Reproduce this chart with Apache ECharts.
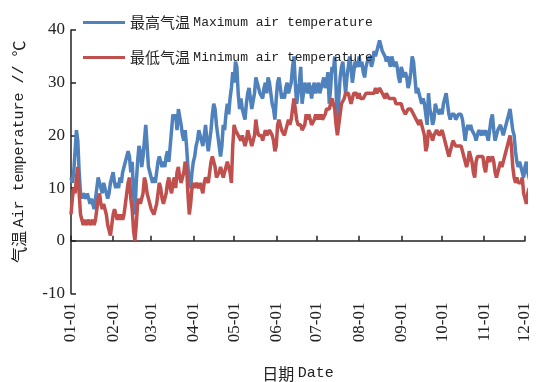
<!DOCTYPE html>
<html>
<head>
<meta charset="utf-8">
<script src="https://cdn.jsdelivr.net/npm/echarts@6/dist/echarts.min.js"></script>
<style>html,body{margin:0;padding:0;background:#fff}#c{width:560px;height:382px}</style>
</head>
<body>
<div id="c"></div>
<script>
// Day index 0 = 01-01
const monthStarts = [0, 31, 59, 90, 120, 151, 181, 212, 243, 273, 304, 334];
const tickLabels = ["01-01","02-01","03-01","04-01","05-01","06-01","07-01","08-01","09-01","10-01","11-01","12-01"];
const seriesNames = ["最高气温 Maximum air temperature", "最低气温 Minimum air temperature"];

const maxTemp = [
  12, 11, 13, 17, 21, 19, 13, 9, 8, 9,
  9, 8, 9, 8, 7, 8, 7, 6, 8, 10,
  12, 11, 10, 9, 11, 10, 9, 8, 9, 11,
  12, 13, 11, 10, 11, 10, 12, 11, 13, 14,
  14, 16, 17, 16, 13, 15, 9, 5, 11, 15,
  18, 17, 14, 16, 19, 22, 18, 14, 13, 12,
  11, 12, 11, 13, 15, 16, 15, 14, 15, 14,
  16, 17, 15, 18, 21, 24, 23, 24, 21, 25,
  25, 22, 20, 19, 21, 18, 14, 11, 10, 13,
  15, 16, 18, 19, 21, 21, 19, 18, 20, 22,
  19, 17, 17, 21, 24, 26, 25, 22, 20, 18,
  16, 18, 22, 21, 24, 26, 24, 27, 29, 32,
  30, 34, 33, 28, 25, 27, 25, 24, 23, 26,
  28, 29, 27, 25, 25, 28, 31, 30, 29, 28,
  28, 27, 29, 30, 28, 31, 30, 28, 26, 25,
  23, 27, 30, 31, 29, 27, 28, 27, 29, 30,
  28, 28, 30, 33, 35, 30, 26, 28, 30, 33,
  26, 28, 30, 29, 28, 30, 29, 27, 29, 30,
  28, 29, 30, 28, 29, 30, 31, 29, 30, 32,
  26, 29, 33, 32, 35, 29, 21, 27, 31, 33,
  34, 31, 28, 31, 33, 35, 33, 30, 32, 34,
  34, 33, 35, 33, 34, 32, 31, 33, 34, 34,
  35, 33, 34, 36, 35, 36, 37, 38, 37, 36,
  36, 35, 34, 35, 34, 33, 35, 34, 33, 34,
  33, 31, 30, 33, 32, 31, 32, 31, 29, 30,
  32, 35, 34, 31, 28, 29, 28, 27, 26, 27,
  26, 24, 22, 28, 25, 24, 22, 23, 26, 25,
  25, 24, 25, 24, 26, 27, 28, 26, 24, 23,
  24, 24, 24, 23, 23, 24, 24, 24, 23, 21,
  19, 21, 22, 21, 22, 21, 21, 20, 19, 20,
  21, 21, 20, 21, 20, 21, 20, 19, 21, 23,
  24, 21, 19, 20, 21, 21, 22, 21, 20, 21,
  22, 23, 24, 25, 23, 21, 20, 17, 15, 14,
  15, 14, 13, 12, 14, 15, 13, 12, 11, 11
];

const minTemp = [
  5, 8, 10, 9, 12, 14, 9, 5, 4, 3,
  4, 3, 3, 4, 3, 3, 4, 3, 4, 6,
  8, 9, 7, 6, 7, 7, 5, 3, 2, 1,
  3, 5, 6, 5, 4, 5, 4, 5, 4, 5,
  7, 9, 11, 12, 8, 6, 2, 0, 3, 7,
  8, 7, 8, 9, 12, 11, 9, 8, 7, 6,
  6, 5, 5, 7, 9, 11, 10, 8, 7, 7,
  9, 11, 12, 10, 9, 11, 12, 10, 13, 14,
  12, 11, 12, 13, 15, 14, 9, 5, 7, 10,
  11, 10, 11, 11, 10, 11, 10, 9, 11, 12,
  12, 11, 13, 15, 16, 15, 14, 12, 12, 13,
  14, 13, 12, 13, 14, 15, 14, 13, 11, 18,
  22, 21, 21, 20, 20, 19, 20, 19, 18, 19,
  21, 21, 19, 18, 18, 20, 23, 21, 20, 20,
  20, 19, 20, 21, 20, 20, 21, 21, 20, 19,
  17, 18, 22, 23, 22, 21, 21, 20, 21, 22,
  23, 22, 23, 25, 27, 25, 23, 22, 22, 22,
  21, 21, 22, 24, 23, 24, 23, 22, 22, 23,
  24, 23, 24, 23, 24, 23, 23, 24, 25, 25,
  25, 26, 27, 26, 25, 22, 20, 22, 24, 26,
  26, 27, 28, 28, 28, 27, 26, 27, 28, 28,
  28, 27, 28, 27, 27, 27, 27, 28, 28, 28,
  28, 28, 28, 28, 29, 28, 28, 29, 29, 28,
  28, 27, 28, 28, 27, 27, 27, 27, 27, 26,
  26, 26, 26, 26, 25, 25, 24, 24, 25, 25,
  25, 25, 24, 24, 23, 23, 22, 23, 22, 21,
  20, 17, 18, 21, 21, 20, 19, 20, 20, 21,
  21, 20, 20, 21, 20, 19, 18, 17, 16, 17,
  18, 19, 19, 18, 18, 18, 18, 18, 17, 16,
  15, 14, 15, 17, 16, 15, 13, 12, 15, 16,
  16, 16, 16, 16, 14, 13, 15, 16, 15, 15,
  16, 15, 13, 12, 13, 14, 15, 14, 15, 16,
  17, 18, 19, 20, 18, 14, 12, 11, 12, 11,
  11, 11, 12, 9, 8, 7, 9, 10, 8, 5
];

const yTicks = { min: -10, max: 40, interval: 10 };

const toPairs = arr => arr.map((v, i) => [i, v]);
const labelOf = v => tickLabels[monthStarts.indexOf(v)] || '';

const cjk = '"Noto Sans CJK SC", sans-serif';
const mono = '"Liberation Mono", monospace';
const serif = '"Liberation Serif", serif';

const richText = {
  c: { fontFamily: cjk, fontSize: 15, color: '#222' },
  e: { fontFamily: mono, fontSize: 13, color: '#222' }
};
const nameRich = {
  c: { fontFamily: cjk, fontSize: 16, color: '#222' },
  e: { fontFamily: mono, fontSize: 15, color: '#222' }
};

const colors = ['#4F81BD', '#C0504D'];

const chart = echarts.init(document.getElementById('c'), null, { renderer: 'canvas' });
chart.setOption({
  backgroundColor: '#ffffff',
  animation: false,
  grid: { left: 71, right: 35, top: 30, bottom: 88.5, containLabel: false, outerBoundsMode: 'none' },
  legend: {
    orient: 'vertical',
    left: 78,
    top: 10,
    itemWidth: 42,
    itemHeight: 3,
    itemGap: 20,
    icon: 'rect',
    data: seriesNames,
    formatter: name => {
      const sp = name.indexOf(' ');
      return '{c|' + name.slice(0, sp) + '} {e|' + name.slice(sp + 1) + '}';
    },
    textStyle: { rich: richText }
  },
  xAxis: {
    type: 'value',
    min: monthStarts[0],
    max: monthStarts[monthStarts.length - 1],
    name: '{c|日期} {e|Date}',
    nameLocation: 'middle',
    nameGap: 72,
    nameTextStyle: { rich: nameRich },
    splitLine: { show: false },
    axisLine: { show: true, lineStyle: { color: '#222', width: 1.5 } },
    axisTick: { show: true, inside: true, length: 5, customValues: monthStarts, lineStyle: { color: '#222', width: 1.5 } },
    axisLabel: {
      customValues: monthStarts,
      rotate: 90,
      margin: 9,
      formatter: v => labelOf(v),
      fontFamily: serif,
      fontSize: 17,
      color: '#222'
    }
  },
  yAxis: {
    type: 'value',
    min: yTicks.min,
    max: yTicks.max,
    interval: yTicks.interval,
    name: '{c|气温} {e|Air temperature // }{c|℃}',
    nameLocation: 'middle',
    nameGap: 44,
    nameRotate: 90,
    nameTextStyle: { rich: nameRich, padding: [0, 0, 0, 20] },
    splitLine: { show: false },
    axisLine: { show: true, lineStyle: { color: '#222', width: 1.5 } },
    axisTick: { show: true, inside: true, length: 5, lineStyle: { color: '#222', width: 1.5 } },
    axisLabel: { fontFamily: serif, fontSize: 17, color: '#222', margin: 6 }
  },
  series: [
    {
      name: seriesNames[0],
      type: 'line',
      data: toPairs(maxTemp),
      symbol: 'none',
      clip: false,
      lineStyle: { color: colors[0], width: 3.5 },
      itemStyle: { color: colors[0] }
    },
    {
      name: seriesNames[1],
      type: 'line',
      data: toPairs(minTemp),
      symbol: 'none',
      clip: false,
      lineStyle: { color: colors[1], width: 3.5 },
      itemStyle: { color: colors[1] }
    }
  ]
});
</script>
</body>
</html>
